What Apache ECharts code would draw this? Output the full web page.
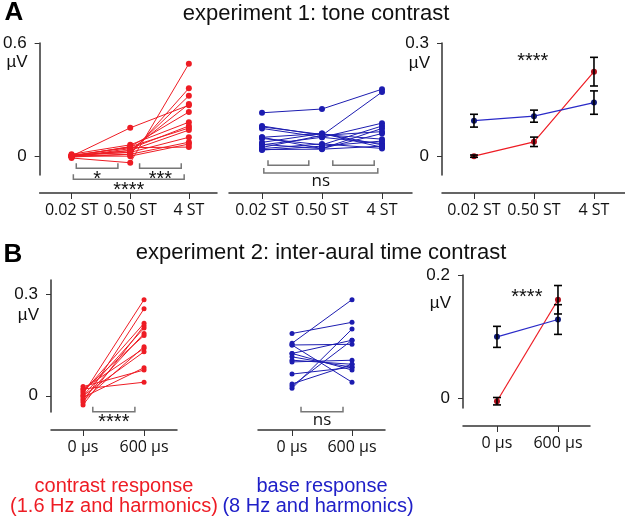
<!DOCTYPE html>
<html>
<head>
<meta charset="utf-8">
<script src="https://cdn.jsdelivr.net/npm/echarts@6/dist/echarts.min.js"></script>
<style>
html, body { margin: 0; padding: 0; background: #fff; }
#c { width: 625px; height: 518px; }
</style>
</head>
<body>
<div id="c"></div>
<script>
var chart = echarts.init(document.getElementById('c'));

// x labels
var toneLabels = ['0.02 ST', '0.50 ST', '4 ST'];
var itdLabels = ['0 µs', '600 µs'];

// experiment 1, one row per listener: [0.02 ST, 0.50 ST, 4 ST] (µV)
var toneContrast = [
    [0.000, 0.150, 0.270],
    [-0.010, -0.035, 0.490],
    [0.000, 0.010, 0.360],
    [0.005, 0.020, 0.320],
    [0.000, 0.030, 0.276],
    [0.000, 0.050, 0.234],
    [0.010, 0.060, 0.180],
    [-0.005, 0.040, 0.160],
    [0.000, 0.050, 0.149],
    [0.000, 0.030, 0.138],
    [0.005, 0.020, 0.100],
    [-0.005, 0.010, 0.074],
    [0.000, 0.000, 0.064],
    [0.005, 0.045, 0.048]
];
var toneBase = [
    [0.230, 0.250, 0.355],
    [0.160, 0.110, 0.340],
    [0.147, 0.100, 0.175],
    [0.100, 0.120, 0.060],
    [0.094, 0.060, 0.160],
    [0.073, 0.120, 0.047],
    [0.062, 0.040, 0.147],
    [0.046, 0.110, 0.130],
    [0.032, 0.053, 0.080],
    [0.100, 0.040, 0.120],
    [0.060, 0.100, 0.067],
    [0.040, 0.065, 0.041],
    [0.035, 0.037, 0.053],
    [0.155, 0.115, 0.090]
];
var toneContrastMean = [0.000, 0.038, 0.224];
var toneContrastErr = [0.003, 0.0125, 0.038];
var toneBaseMean = [0.094, 0.106, 0.142];
var toneBaseErr = [0.017, 0.016, 0.031];

// experiment 2, one row per listener: [0 µs, 600 µs] (µV)
var itdContrast = [
    [0.005, 0.284],
    [-0.020, 0.257],
    [0.010, 0.214],
    [-0.027, 0.207],
    [0.000, 0.200],
    [-0.010, 0.184],
    [0.015, 0.178],
    [-0.015, 0.145],
    [0.020, 0.140],
    [0.000, 0.130],
    [-0.005, 0.083],
    [0.027, 0.076],
    [0.020, 0.040]
];
var itdBase = [
    [0.155, 0.284],
    [0.184, 0.217],
    [0.022, 0.197],
    [0.029, 0.164],
    [0.150, 0.152],
    [0.125, 0.164],
    [0.150, 0.040],
    [0.115, 0.084],
    [0.105, 0.093],
    [0.100, 0.105],
    [0.064, 0.084],
    [0.035, 0.093],
    [0.125, 0.076]
];
var itdContrastMean = [-0.004, 0.160];
var itdContrastErr = [0.006, 0.023];
var itdBaseMean = [0.100, 0.128];
var itdBaseErr = [0.017, 0.024];

// significance brackets: [grid, from, to, level]
var brackets = [
    [0, 0.08, 0.79, -0.064],
    [0, 1.16, 1.87, -0.064],
    [0, 0.03, 1.92, -0.122],
    [1, 0.10, 0.78, -0.048],
    [1, 1.18, 1.87, -0.048],
    [1, 0.03, 1.93, -0.090],
    [3, 0.16, 0.85, -0.047],
    [4, 0.15, 0.85, -0.047]
];
var bracketText = ['*', '***', '****', '', '', 'ns', '****', 'ns'];
// stars over the mean panels: [grid, x, y]
var starMarks = [[2, 0.98, 0.278], [5, 0.49, 0.180]];

var RED = '#ee1c24';
var BLUE = '#1c1cb0';
var AXIS = '#333';

var grids = [
    { left: 34, top: 43, width: 183, height: 132 },
    { left: 229, top: 43, width: 183, height: 132 },
    { left: 442, top: 43, width: 183, height: 132 },
    { left: 51, top: 280, width: 126, height: 132 },
    { left: 258, top: 280, width: 127, height: 132 },
    { left: 463, top: 275, width: 127, height: 133 }
];

function xAx(g, min, max, labels) {
    var ticks = labels.map(function (l, i) { return i; });
    return {
        type: 'value', gridIndex: g, min: min, max: max, offset: 18,
        axisLine: { onZero: false, lineStyle: { color: AXIS, width: 1.5 } },
        axisTick: { customValues: ticks, length: 6, lineStyle: { color: AXIS } },
        axisLabel: {
            customValues: ticks, margin: 9, color: '#111',
            fontFamily: 'Open Sans', fontSize: 16,
            formatter: function (v) { return labels[Math.round(v)]; }
        },
        splitLine: { show: false }
    };
}

function yAx(g, min, max, ticks, nameGap, show) {
    return {
        type: 'value', gridIndex: g, min: min, max: max, show: show,
        name: 'µV', nameLocation: 'end', nameGap: nameGap,
        nameTextStyle: { align: 'right', verticalAlign: 'middle', padding: [0, 12, 0, 0],
            fontFamily: 'Liberation Sans', fontSize: 17, color: '#111' },
        axisLine: { show: true, onZero: false, lineStyle: { color: AXIS, width: 1.5 } },
        axisTick: { show: true, customValues: ticks, length: 5, lineStyle: { color: AXIS } },
        axisLabel: {
            customValues: ticks, margin: 13, color: '#111',
            fontFamily: 'Liberation Sans', fontSize: 17,
            formatter: function (v) { return v === 0 ? '0' : String(v); }
        },
        splitLine: { show: false }
    };
}

var series = [];

function subjectLines(rows, g, color, size) {
    rows.forEach(function (row) {
        series.push({
            type: 'line', xAxisIndex: g, yAxisIndex: g,
            data: row.map(function (v, i) { return [i, v]; }),
            symbol: 'circle', symbolSize: size, showSymbol: true,
            itemStyle: { color: color }, lineStyle: { color: color, width: 1 },
            silent: true, animation: false
        });
    });
}
subjectLines(toneContrast, 0, RED, 6);
subjectLines(toneBase, 1, BLUE, 6);
subjectLines(itdContrast, 3, RED, 5);
subjectLines(itdBase, 4, BLUE, 5);

function meanLine(means, errs, g, lineColor, dotColor) {
    series.push({
        type: 'line', xAxisIndex: g, yAxisIndex: g,
        data: means.map(function (v, i) { return [i, v]; }),
        symbol: 'circle', symbolSize: 6,
        itemStyle: { color: dotColor }, lineStyle: { color: lineColor, width: 1.2 },
        silent: true, animation: false, z: 3
    });
    series.push({
        type: 'custom', xAxisIndex: g, yAxisIndex: g,
        data: means.map(function (v, i) { return [i, v, errs[i]]; }),
        encode: { x: 0, y: 1 },
        renderItem: function (params, api) {
            var x = api.value(0), m = api.value(1), e = api.value(2);
            var top = api.coord([x, m + e]);
            var bot = api.coord([x, m - e]);
            var st = { stroke: '#000', lineWidth: 1.6 };
            return {
                type: 'group', children: [
                    { type: 'line', shape: { x1: top[0], y1: top[1], x2: bot[0], y2: bot[1] }, style: st },
                    { type: 'line', shape: { x1: top[0] - 4, y1: top[1], x2: top[0] + 4, y2: top[1] }, style: st },
                    { type: 'line', shape: { x1: bot[0] - 4, y1: bot[1], x2: bot[0] + 4, y2: bot[1] }, style: st }
                ]
            };
        },
        silent: true, animation: false, z: 4
    });
}
meanLine(toneContrastMean, toneContrastErr, 2, RED, '#b0101c');
meanLine(toneBaseMean, toneBaseErr, 2, '#2a2ac8', '#101a78');
meanLine(itdContrastMean, itdContrastErr, 5, RED, '#b0101c');
meanLine(itdBaseMean, itdBaseErr, 5, '#2a2ac8', '#101a78');

// brackets and stars, per grid
[0, 1, 3, 4].forEach(function (g) {
    var idx = [];
    brackets.forEach(function (b, i) { if (b[0] === g) idx.push(i); });
    series.push({
        type: 'custom', xAxisIndex: g, yAxisIndex: g, clip: false,
        data: idx.map(function (i) { return [brackets[i][1], brackets[i][2], brackets[i][3], i]; }),
        encode: { x: [0, 1], y: 2 },
        renderItem: function (params, api) {
            var p1 = api.coord([api.value(0), api.value(2)]);
            var p2 = api.coord([api.value(1), api.value(2)]);
            var txt = bracketText[api.value(3)];
            var isNs = txt === 'ns';
            return {
                type: 'group', children: [
                    { type: 'polyline', shape: { points: [[p1[0], p1[1] - 5], p1, p2, [p2[0], p2[1] - 5]] },
                      style: { stroke: '#777', lineWidth: 1.5, fill: null } },
                    { type: 'text', x: (p1[0] + p2[0]) / 2, y: p1[1] + (isNs ? 0 : 1),
                      style: { text: txt, align: 'center', verticalAlign: 'top',
                               font: isNs ? '17px "Open Sans"' : '20px "Liberation Sans"', fill: '#111' } }
                ]
            };
        },
        silent: true, animation: false
    });
});
starMarks.forEach(function (s) {
    series.push({
        type: 'custom', xAxisIndex: s[0], yAxisIndex: s[0], clip: false,
        data: [[s[1], s[2]]],
        renderItem: function (params, api) {
            var p = api.coord([api.value(0), api.value(1)]);
            return { type: 'text', x: p[0], y: p[1],
                     style: { text: '****', align: 'center', verticalAlign: 'top',
                              font: '20px "Liberation Sans"', fill: '#111' } };
        },
        silent: true, animation: false
    });
});

function label(text, x, y, size, color, bold) {
    return { type: 'text', x: x, y: y, silent: true,
             style: { text: text, align: 'center', verticalAlign: 'middle', fill: color,
                      font: (bold ? 'bold ' : '') + size + 'px "Liberation Sans"' } };
}

chart.setOption({
    animation: false,
    grid: grids,
    xAxis: [
        xAx(0, -0.545, 2.48, toneLabels),
        xAx(1, -0.55, 2.5, toneLabels),
        xAx(2, -0.533, 2.517, toneLabels),
        xAx(3, -0.525, 1.54, itdLabels),
        xAx(4, -0.567, 1.55, itdLabels),
        xAx(5, -0.557, 1.525, itdLabels)
    ],
    yAxis: [
        yAx(0, -0.1, 0.6, [0, 0.6], -19, true),
        yAx(1, -0.1, 0.6, [0, 0.6], -19, false),
        yAx(2, -0.05, 0.3, [0, 0.3], -20, true),
        yAx(3, -0.048, 0.342, [0, 0.3], -35, true),
        yAx(4, -0.048, 0.342, [0, 0.3], -35, false),
        yAx(5, -0.015, 0.2, [0, 0.2], -28, true)
    ],
    series: series,
    graphic: [
        label('A', 14, 13, 26, '#000', true),
        label('experiment 1: tone contrast', 316, 14, 22, '#111'),
        label('B', 13, 255, 26, '#000', true),
        label('experiment 2: inter-aural time contrast', 321, 253, 22, '#111'),
        label('contrast response', 114, 486, 20, RED),
        label('(1.6 Hz and harmonics)', 114, 506, 20, RED),
        label('base response', 322, 486, 20, '#2020c8'),
        label('(8 Hz and harmonics)', 318, 506, 20, '#2020c8')
    ]
});
</script>
</body>
</html>
